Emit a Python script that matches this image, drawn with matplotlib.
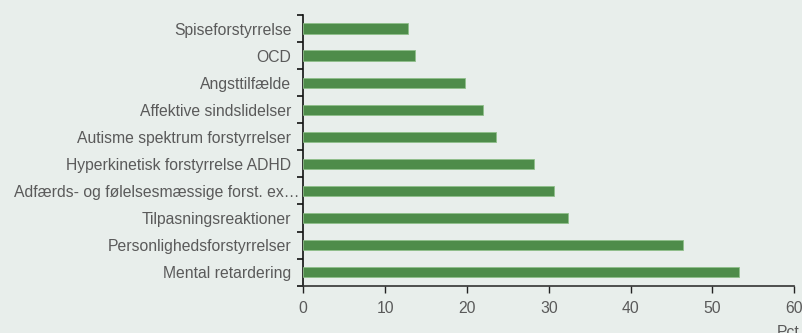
import matplotlib
matplotlib.use("Agg")
import matplotlib.pyplot as plt
import matplotlib.transforms as mtransforms

# categories bottom -> top, as drawn
CATEGORIES = [
    "Mental retardering",
    "Personlighedsforstyrrelser",
    "Tilpasningsreaktioner",
    "Adfærds- og følelsesmæssige forst. ex…",
    "Hyperkinetisk forstyrrelse ADHD",
    "Autisme spektrum forstyrrelser",
    "Affektive sindslidelser",
    "Angsttilfælde",
    "OCD",
    "Spiseforstyrrelse",
]
PCT = [53.2, 46.4, 32.4, 30.6, 28.2, 23.5, 21.9, 19.8, 13.6, 12.75]
XTICKS = [0, 10, 20, 30, 40, 50, 60]

BG = "#e8eeeb"
BAR = "#4e8c4a"
EDGE = "#8fbf8a"
TXT = "#5a5a5a"

plt.rcParams.update({"font.family": ["Liberation Sans", "DejaVu Sans"],
                     "font.size": 11.3})

fig = plt.figure(figsize=(8.03, 3.33), dpi=100, facecolor=BG)
ax = fig.add_axes([303.3 / 803, 1 - 285.7 / 333, (794.3 - 303.3) / 803, (285.7 - 15) / 333])
ax.set_facecolor(BG)

ypos = list(range(len(CATEGORIES)))
ax.barh(ypos, PCT, height=0.38, color=BAR, edgecolor=EDGE, linewidth=0.6, zorder=3)

ax.set_xlim(0, 60)
ax.set_ylim(-0.5, len(CATEGORIES) - 0.5)
ax.set_xticks(XTICKS)
ax.set_xticklabels([str(t) for t in XTICKS], color=TXT)

# labels at bar centres, tick marks at the boundaries between categories
ax.set_yticks(ypos)
ax.set_yticklabels(CATEGORIES, color=TXT)
ax.tick_params(axis="y", which="major", length=0, pad=8.5)
ax.set_yticks([i - 0.5 for i in range(len(CATEGORIES) + 1)], minor=True)
ax.tick_params(axis="y", which="minor", length=4, width=1.2, color="#111111", direction="out")
ax.tick_params(axis="x", length=5, width=1.0, color="#222222", pad=6)

for s in ["top", "right"]:
    ax.spines[s].set_visible(False)
ax.spines["left"].set_color("#111111")
ax.spines["left"].set_linewidth(1.2)
ax.spines["bottom"].set_color("#333333")
ax.spines["bottom"].set_linewidth(1.2)

# the truncated label runs right up to the axis
lab = ax.get_yticklabels()[3]
lab.set_transform(lab.get_transform() + mtransforms.ScaledTranslation(8 / 100, 0, fig.dpi_scale_trans))

fig.text(777 / 803, 1 - 325 / 333, "Pct.", color=TXT, ha="left", va="top")

fig.savefig("out.png", dpi=100, facecolor=BG)
